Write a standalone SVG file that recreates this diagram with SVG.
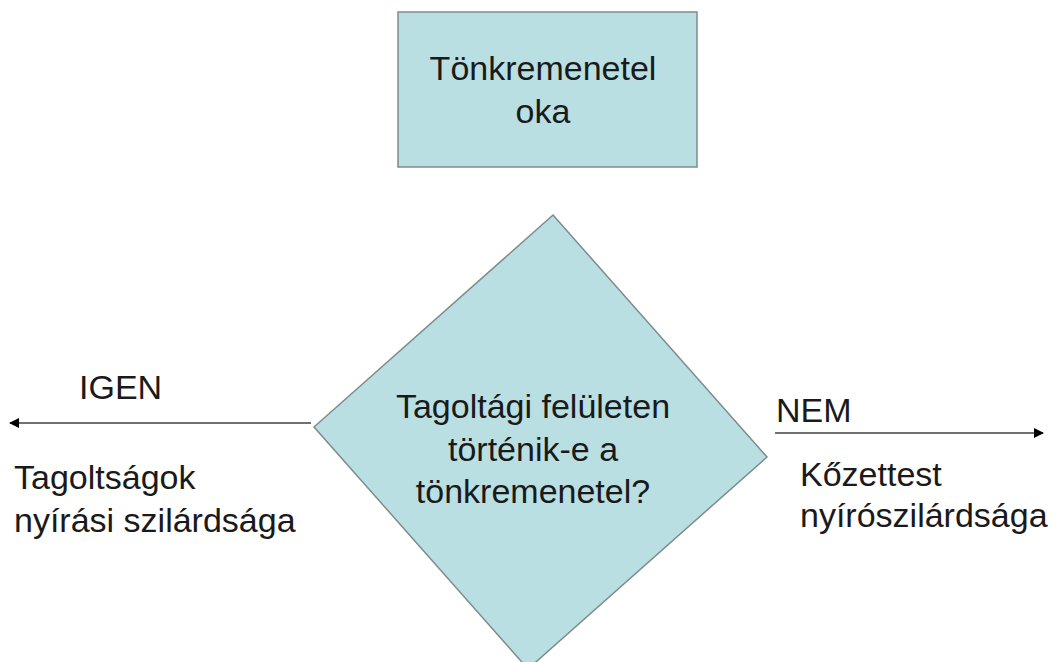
<svg xmlns="http://www.w3.org/2000/svg" width="1059" height="662" viewBox="0 0 1059 662">
<style>
.shape{fill:#b9dfe3;stroke:#7d8c8c;stroke-width:1.5}
.t{font-family:"Liberation Sans",Arial,sans-serif;font-size:34px;fill:#1a1a1a}
.c{text-anchor:middle}
.conn{stroke:#707070;stroke-width:2;fill:none}
</style>
<defs>
<marker id="ah" viewBox="0 0 10 10" refX="9" refY="5" markerWidth="13" markerHeight="10" markerUnits="userSpaceOnUse" orient="auto">
<path d="M0,0 L10,5 L0,10 z" fill="#000"/>
</marker>
</defs>
<rect width="1059" height="662" fill="#fff"/>
<g id="connectors">
<line class="conn" x1="311" y1="423" x2="10" y2="423" marker-end="url(#ah)"/>
<line class="conn" x1="775" y1="433" x2="1043" y2="433" marker-end="url(#ah)"/>
</g>
<g id="node-cause">
<rect class="shape" x="398" y="12" width="299" height="155"/>
<text class="t c" x="543" y="80">Tönkremenetel</text>
<text class="t c" x="543" y="123">oka</text>
</g>
<g id="node-decision">
<polygon class="shape" points="553,215 767,457 528,669 314,427"/>
<text class="t c" x="533" y="418">Tagoltági felületen</text>
<text class="t c" x="533" y="461">történik-e a</text>
<text class="t c" x="533" y="503">tönkremenetel?</text>
</g>
<g id="label-igen">
<text class="t" x="79" y="399">IGEN</text>
</g>
<g id="label-nem">
<text class="t" x="776" y="422">NEM</text>
</g>
<g id="node-left">
<text class="t" x="14" y="489">Tagoltságok</text>
<text class="t" x="14" y="532">nyírási szilárdsága</text>
</g>
<g id="node-right">
<text class="t" x="800" y="486">Kőzettest</text>
<text class="t" x="800" y="527">nyírószilárdsága</text>
</g>
</svg>
